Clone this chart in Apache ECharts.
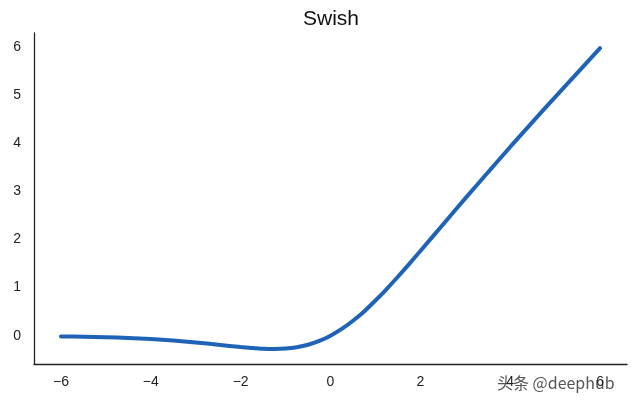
<!DOCTYPE html>
<html>
<head>
<meta charset="utf-8">
<script src="https://cdn.jsdelivr.net/npm/echarts@6/dist/echarts.min.js"></script>
<style>html,body{margin:0;padding:0;background:#fff}#c{width:640px;height:413px}</style>
</head>
<body>
<div id="c"></div>
<script>
const xValues = [-6, -5.5, -5, -4.5, -4, -3.5, -3, -2.5, -2, -1.75, -1.5, -1.25, -1, -0.75, -0.5, -0.25, 0, 0.25, 0.5, 0.75, 1, 1.25, 1.5, 1.75, 2, 2.5, 3, 3.5, 4, 4.5, 5, 5.5, 6];
const yValues = [-0.015, -0.022, -0.033, -0.049, -0.072, -0.102, -0.142, -0.189, -0.238, -0.258, -0.274, -0.278, -0.269, -0.240, -0.189, -0.110, 0, 0.140, 0.311, 0.505, 0.731, 0.971, 1.226, 1.490, 1.762, 2.31, 2.858, 3.395, 3.928, 4.45, 4.967, 5.477, 5.985];
const xTicks = [-6, -4, -2, 0, 2, 4, 6];
const yTicks = [0, 1, 2, 3, 4, 5, 6];
const titleText = 'Swish';
const watermark = '头条 @deephub';

const chart = echarts.init(document.getElementById('c'));
const font = "'Liberation Sans', Arial, sans-serif";
chart.setOption({
  animation: false,
  backgroundColor: '#ffffff',
  title: {
    text: titleText, left: 298, top: 4,
    textStyle: { fontFamily: font, fontSize: 21, fontWeight: 'normal', color: '#111' }
  },
  grid: { left: 34, right: 13, top: 33, bottom: 49, containLabel: false },
  xAxis: {
    type: 'value', min: -6.6, max: 6.6,
    axisLine: { show: true, onZero: false, lineStyle: { color: '#222', width: 1.3 } },
    axisTick: { show: false },
    splitLine: { show: false },
    axisLabel: {
      margin: 11, fontFamily: font, fontSize: 14, color: '#222',
      customValues: xTicks,
      formatter: v => (v < 0 ? '\u2212' + Math.abs(v) : String(v))
    }
  },
  yAxis: {
    type: 'value', min: -0.59, max: 6.3,
    axisLine: { show: true, onZero: false, lineStyle: { color: '#222', width: 1.3 } },
    axisTick: { show: false },
    splitLine: { show: false },
    axisLabel: {
      margin: 13, fontFamily: font, fontSize: 14, color: '#222',
      customValues: yTicks,
      formatter: v => String(v)
    }
  },
  series: [{
    type: 'line', smooth: 0.25, showSymbol: false,
    data: xValues.map((x, i) => [x, yValues[i]]),
    lineStyle: { color: '#1f63b6', width: 4, cap: 'round' }
  }],
  graphic: [{
    type: 'text', left: 497, top: 375,
    style: { text: watermark, fontSize: 16, fill: '#555',
      fontFamily: "'Noto Sans CJK SC', 'Liberation Sans', sans-serif" }
  }]
});
</script>
</body>
</html>
